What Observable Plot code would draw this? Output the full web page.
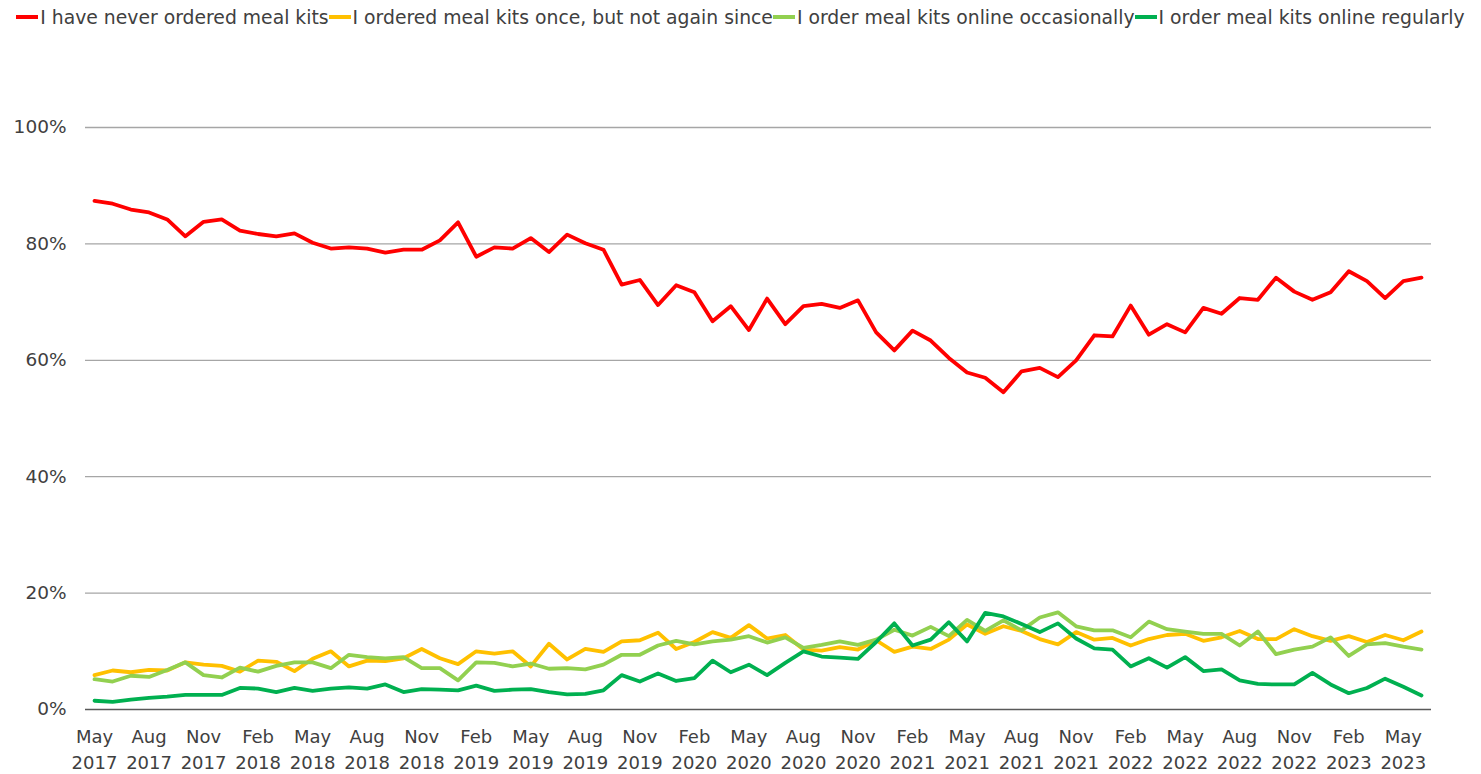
<!DOCTYPE html>
<html>
<head>
<meta charset="utf-8">
<script src="https://cdn.jsdelivr.net/npm/d3@7"></script>
<script src="https://cdn.jsdelivr.net/npm/@observablehq/plot@0.6"></script>
<style>
  body { margin: 0; background: #fff; font-family: "DejaVu Sans", sans-serif; }
  #legend { display: flex; justify-content: center; align-items: center; height: 34px; font-size: 18.8px; color: #404040; white-space: nowrap; }
  #legend .item { display: flex; align-items: center; }
  #legend .sw { display: inline-block; width: 22px; height: 3.5px; margin-right: 2px; }
</style>
</head>
<body>
<div id="legend"></div>
<div id="chart"></div>
<script>
const seriesNames = [
  "I have never ordered meal kits",
  "I ordered meal kits once, but not again since",
  "I order meal kits online occasionally",
  "I order meal kits online regularly"
];
const seriesColors = ["#FF0000", "#FFC000", "#92D050", "#00B050"];

// Monthly observations, May 2017 .. Jun 2023 (74 months), index 0..73
const never = [87.4,86.9,85.9,85.4,84.2,81.3,83.8,84.2,82.3,81.7,
  81.3,81.8,80.2,79.2,79.4,79.2,78.5,79.0,79.0,80.6,
  83.7,77.8,79.4,79.2,81.0,78.6,81.6,80.1,79.0,73.0,
  73.8,69.5,72.9,71.7,66.7,69.3,65.2,70.6,66.2,69.3,
  69.7,69.0,70.3,64.8,61.7,65.1,63.4,60.4,57.9,57.0,
  54.5,58.1,58.7,57.1,60.0,64.3,64.1,69.4,64.4,66.2,
  64.8,69.0,68.0,70.7,70.4,74.2,71.8,70.4,71.7,75.3,
  73.6,70.7,73.6,74.2];
const once = [5.9,6.7,6.4,6.8,6.7,8.1,7.7,7.5,6.5,8.4,
  8.2,6.6,8.7,10.0,7.4,8.4,8.3,8.8,10.4,8.8,
  7.8,10.0,9.6,10.0,7.4,11.3,8.6,10.4,9.9,11.7,
  11.9,13.2,10.4,11.6,13.3,12.3,14.5,12.2,12.8,10.3,
  10.1,10.7,10.3,11.9,9.9,10.8,10.4,12.0,14.6,13.0,
  14.3,13.5,12.1,11.2,13.3,12.0,12.3,11.0,12.1,12.8,
  13.0,11.8,12.4,13.5,12.1,12.1,13.8,12.6,11.8,12.6,
  11.6,12.8,11.9,13.4];
const occasionally = [5.2,4.8,5.8,5.6,6.8,8.1,5.9,5.5,7.2,6.5,
  7.5,8.1,8.1,7.1,9.4,9.0,8.8,9.0,7.1,7.1,
  5.0,8.1,8.0,7.4,7.9,7.0,7.1,6.9,7.7,9.4,
  9.4,11.0,11.8,11.2,11.7,12.0,12.6,11.5,12.4,10.6,
  11.1,11.7,11.1,12.0,13.7,12.7,14.2,12.6,15.4,13.5,
  15.3,13.6,15.8,16.7,14.3,13.6,13.6,12.4,15.1,13.8,
  13.4,13.0,13.0,11.0,13.4,9.5,10.3,10.8,12.4,9.2,
  11.2,11.4,10.8,10.3];
const regularly = [1.5,1.3,1.7,2.0,2.2,2.5,2.5,2.5,3.7,3.6,
  3.0,3.7,3.2,3.6,3.8,3.6,4.3,3.0,3.5,3.4,
  3.3,4.1,3.2,3.4,3.5,3.0,2.6,2.7,3.3,5.9,
  4.8,6.2,4.9,5.4,8.4,6.4,7.7,5.9,8.0,10.0,
  9.1,8.9,8.7,11.6,14.8,11.0,12.0,15.0,11.7,16.6,
  16.0,14.7,13.3,14.8,12.2,10.5,10.3,7.4,8.8,7.2,
  9.0,6.6,6.9,5.0,4.4,4.3,4.3,6.3,4.3,2.8,
  3.7,5.3,3.9,2.4];

const tickLabels = ["May\n2017","Aug\n2017","Nov\n2017","Feb\n2018","May\n2018","Aug\n2018","Nov\n2018",
  "Feb\n2019","May\n2019","Aug\n2019","Nov\n2019","Feb\n2020","May\n2020","Aug\n2020","Nov\n2020",
  "Feb\n2021","May\n2021","Aug\n2021","Nov\n2021","Feb\n2022","May\n2022","Aug\n2022","Nov\n2022",
  "Feb\n2023","May\n2023"];
const yTicks = [0, 20, 40, 60, 80, 100];

const allSeries = [never, once, occasionally, regularly];
const rows = [];
allSeries.forEach((vals, s) => vals.forEach((v, i) => rows.push({i, v, s: seriesNames[s]})));
const tickPos = tickLabels.map((_, k) => k * 3);

// legend
const legend = document.getElementById("legend");
seriesNames.forEach((n, k) => {
  const it = document.createElement("span");
  it.className = "item";
  it.innerHTML = `<span class="sw" style="background:${seriesColors[k]}"></span><span>${n}</span>`;
  legend.appendChild(it);
});

const chart = Plot.plot({
  width: 1481,
  height: 740,
  marginLeft: 85,
  marginRight: 50,
  marginTop: 93,
  marginBottom: 65,
  style: { fontFamily: "DejaVu Sans, sans-serif", fontSize: "17px", color: "#404040", background: "#fff" },
  x: { type: "linear", domain: [0, 73], insetLeft: 9, insetRight: 10 },
  y: { domain: [0, 100] },
  color: { domain: seriesNames, range: seriesColors },
  marks: [
    Plot.ruleY(yTicks.filter(d => d > 0), { stroke: "#a6a6a6", strokeWidth: 1.3 }),
    Plot.ruleY([0], { stroke: "#595959", strokeWidth: 1.6 }),
    Plot.lineY(rows, { x: "i", y: "v", z: "s", stroke: "s", strokeWidth: 3.8, strokeLinejoin: "round" }),
    Plot.axisY({ ticks: yTicks, tickFormat: d => d + "%", tickSize: 0, tickPadding: 19, label: null, fontSize: 18.5 }),
    Plot.axisX({ ticks: tickPos, tickFormat: (d, k) => tickLabels[k], tickSize: 0, tickPadding: 16, label: null, fontSize: 18, lineHeight: 1.4 })
  ]
});
document.getElementById("chart").appendChild(chart);
</script>
</body>
</html>
